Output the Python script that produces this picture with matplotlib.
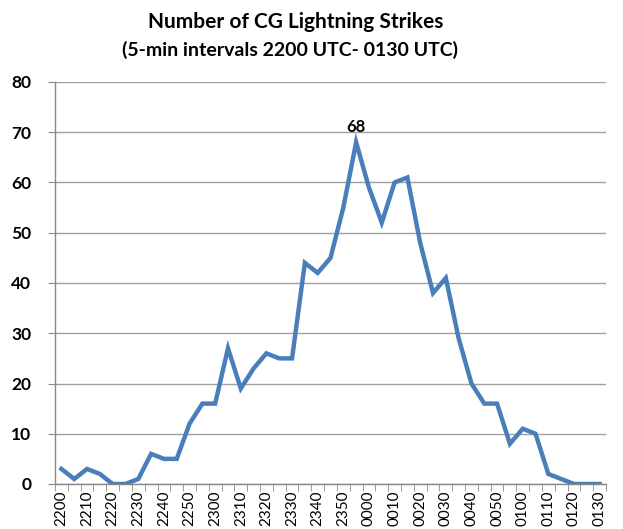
import matplotlib
matplotlib.use("Agg")
import matplotlib.pyplot as plt
import numpy as np

times = ["2200","2205","2210","2215","2220","2225","2230","2235","2240","2245",
         "2250","2255","2300","2305","2310","2315","2320","2325","2330","2335",
         "2340","2345","2350","2355","0000","0005","0010","0015","0020","0025",
         "0030","0035","0040","0045","0050","0055","0100","0105","0110","0115",
         "0120","0125","0130"]
strikes = [3,1,3,2,0,0,1,6,5,5,
           12,16,16,27,19,23,26,25,25,44,
           42,45,55,68,59,52,60,61,48,38,
           41,29,20,16,16,8,11,10,2,1,
           0,0,0]
title = "Number of CG Lightning Strikes"
subtitle = "(5-min intervals 2200 UTC- 0130 UTC)"
yticks = [0,10,20,30,40,50,60,70,80]

plt.rcParams['font.family'] = ['Lato', 'DejaVu Sans']

fig = plt.figure(figsize=(6.23, 5.29), dpi=100)
ax = fig.add_axes([55/623, 1-484/529, 551/623, 402/529])

x = np.arange(len(strikes))
ax.plot(x, strikes, color="#4A7EBB", lw=3.2, solid_joinstyle="miter")

peak = int(np.argmax(strikes))
ax.annotate(str(strikes[peak]), (x[peak], strikes[peak]), xytext=(0, 5),
            textcoords="offset points", ha="center", va="bottom",
            fontsize=12, fontweight="bold")

ax.set_xlim(-0.5, len(strikes)-0.5)
ax.set_ylim(0, 80)
ax.set_yticks(yticks)
ax.set_yticklabels([str(v) for v in yticks], fontsize=12.5, fontweight="bold")
ax.yaxis.grid(True, color="#A0A0A0", lw=1)
ax.set_axisbelow(True)

ax.set_xticks(x[::2])
ax.set_xticklabels(times[::2], rotation=90, fontsize=11)
ax.set_xticks(np.arange(-0.5, len(strikes)), minor=True)
ax.tick_params(axis="x", which="major", length=0, pad=5)
ax.tick_params(axis="x", which="minor", length=5, color="#888888", direction="out")
ax.tick_params(axis="y", length=5, color="#888888", pad=12)

for s in ["top", "right"]:
    ax.spines[s].set_visible(False)
for s in ["left", "bottom"]:
    ax.spines[s].set_color("#888888")
    ax.spines[s].set_linewidth(1)

fig.text(296/623, 1-22/529, title, ha="center", va="center", fontsize=15, fontweight="bold")
fig.text(290/623, 1-50/529, subtitle, ha="center", va="center", fontsize=14, fontweight="bold")

fig.savefig("out.png", dpi=100)
